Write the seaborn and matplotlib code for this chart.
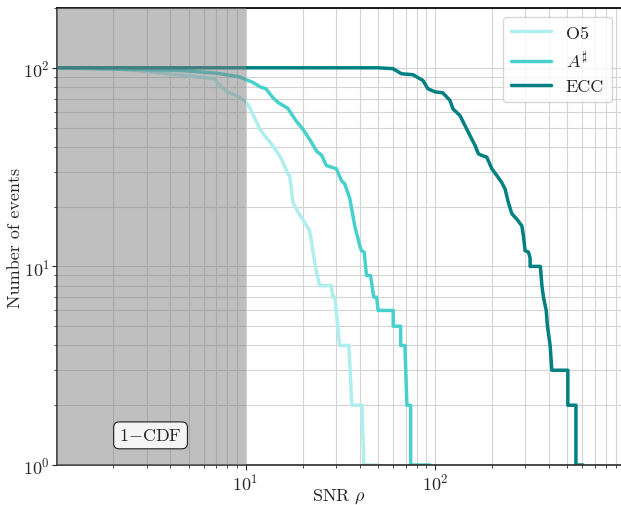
import pandas as pd
import matplotlib
matplotlib.use("Agg")
import matplotlib.pyplot as plt
import seaborn as sns

# Survival curves: number of events with SNR above rho (curve vertices)
o5_snr = [1.0, 2.0, 3.1, 6.86, 7.44, 8.06, 8.93, 9.88, 10.5, 11.86, 12.6, 13.9,
          15.45, 16.75, 17.1, 17.8, 18.9, 20.5, 21.8, 22.3, 23.0, 23.5, 24.6,
          28.3, 29.0, 29.6, 31.4, 35.1, 36.4, 41.2, 42.1, 50.1]
o5_count = [100, 99, 95.5, 88, 80, 75.5, 72.5, 68.5, 63.3, 49.3, 45.6, 40.7,
            34.9, 29.2, 28.5, 21, 18.8, 16.7, 15.1, 13.2, 11, 9.7, 8,
            8, 7, 7, 4, 4, 2, 2, 1, 1]

asharp_snr = [1.0, 4.5, 7.0, 9.3, 10.1, 10.9, 12.0, 12.8, 13.9, 14.8, 16.7, 18.5,
              20.1, 22.0, 23.7, 25.2, 26.7, 30.2, 32.1, 33.4, 35.5, 37.7, 40.1,
              40.9, 42.3, 43.0, 43.5, 45.7, 47.5, 49.2, 50.1, 60.2, 60.2, 65.9,
              65.9, 69.4, 71.1, 74.4, 74.4, 94.0]
asharp_count = [100, 97, 94, 90, 87, 84.5, 80, 78.5, 71, 67, 62.5, 54,
                49, 43, 38, 36.3, 32.2, 31, 27, 26, 22, 16, 12.7,
                12, 11.8, 10, 9, 9, 7, 7, 6, 6, 5, 5,
                4, 4, 2, 2, 1, 1]

ecc_snr = [1.0, 50.0, 60.0, 66.6, 76.5, 86.4, 91.8, 100.0, 110.0, 120.0, 124.5,
           135.5, 144.0, 153.0, 163.0, 169.5, 176.6, 187.7, 199.7, 212.0, 225.0,
           234.6, 244.0, 254.6, 270.6, 287.6, 293.0, 299.0, 311.6, 318.0, 318.0,
           360.0, 367.0, 374.0, 386.6, 392.6, 405.6, 414.0, 503.0, 503.0, 555.0,
           555.0, 604.0]
ecc_count = [100, 100, 99, 93.3, 92.3, 86.3, 78.4, 75.7, 74.8, 68.5, 62.1,
             57.5, 51.2, 45.6, 40.6, 36.9, 36.2, 35.5, 31, 28.7, 26.5,
             24.5, 21, 18.4, 17.3, 16, 14.3, 12, 11.8, 11, 10,
             10, 8, 7, 6, 5, 4, 3, 3, 2, 2,
             1, 1]

catalogs = ["O5", r"$A^\sharp$", "ECC"]
colors = ["paleturquoise", "mediumturquoise", "teal"]

df = pd.concat(
    [pd.DataFrame({"snr": s, "count": c, "catalog": name})
     for s, c, name in zip([o5_snr, asharp_snr, ecc_snr],
                           [o5_count, asharp_count, ecc_count], catalogs)],
    ignore_index=True,
)

sns.set_theme(style="ticks")
plt.rcParams.update({
    "font.family": "serif",
    "font.serif": ["cmr10"],
    "mathtext.fontset": "cm",
    "axes.formatter.use_mathtext": True,
    "axes.unicode_minus": False,
})

fig = plt.figure(figsize=(6.21, 5.06), dpi=100)
ax = fig.add_axes([57 / 621, 40 / 506, 564 / 621, 457 / 506])

sns.lineplot(data=df, x="snr", y="count", hue="catalog", hue_order=catalogs,
             palette=dict(zip(catalogs, colors)), sort=False, estimator=None,
             lw=2.5, ax=ax)

ax.set_xscale("log")
ax.set_yscale("log")
ax.set_xlim(1.01, 960)
ax.set_ylim(1, 200)

ax.set_axisbelow(True)
ax.grid(True, which="both", color="#d4d4d4", lw=0.8)

# low-SNR region
ax.axvspan(1, 10, color="gray", alpha=0.5, lw=0, zorder=3)

ax.text(3.15, 1.41, r"1$-$CDF", ha="center", va="center", fontsize=13,
        zorder=6, bbox=dict(boxstyle="round,pad=0.3", fc="white", ec="black",
                            alpha=0.85, lw=0.8))

ax.set_xlabel(r"SNR $\rho$", fontsize=13, labelpad=-4.5)
ax.set_ylabel("Number of events", fontsize=13, labelpad=0)
ax.tick_params(axis="both", which="major", labelsize=13, length=3.5, width=0.8,
               pad=1.5)
ax.tick_params(axis="both", which="minor", length=2, width=0.6)

ax.spines["right"].set_visible(False)
for side in ("left", "bottom"):
    ax.spines[side].set_color("#333333")
ax.spines["top"].set_color("black")

ax.legend(loc="upper right", fontsize=13, frameon=True, fancybox=True,
          framealpha=0.8, edgecolor="#cccccc", handlelength=2.2,
          borderpad=0.45, labelspacing=0.45)

fig.savefig("out.png", dpi=100)
